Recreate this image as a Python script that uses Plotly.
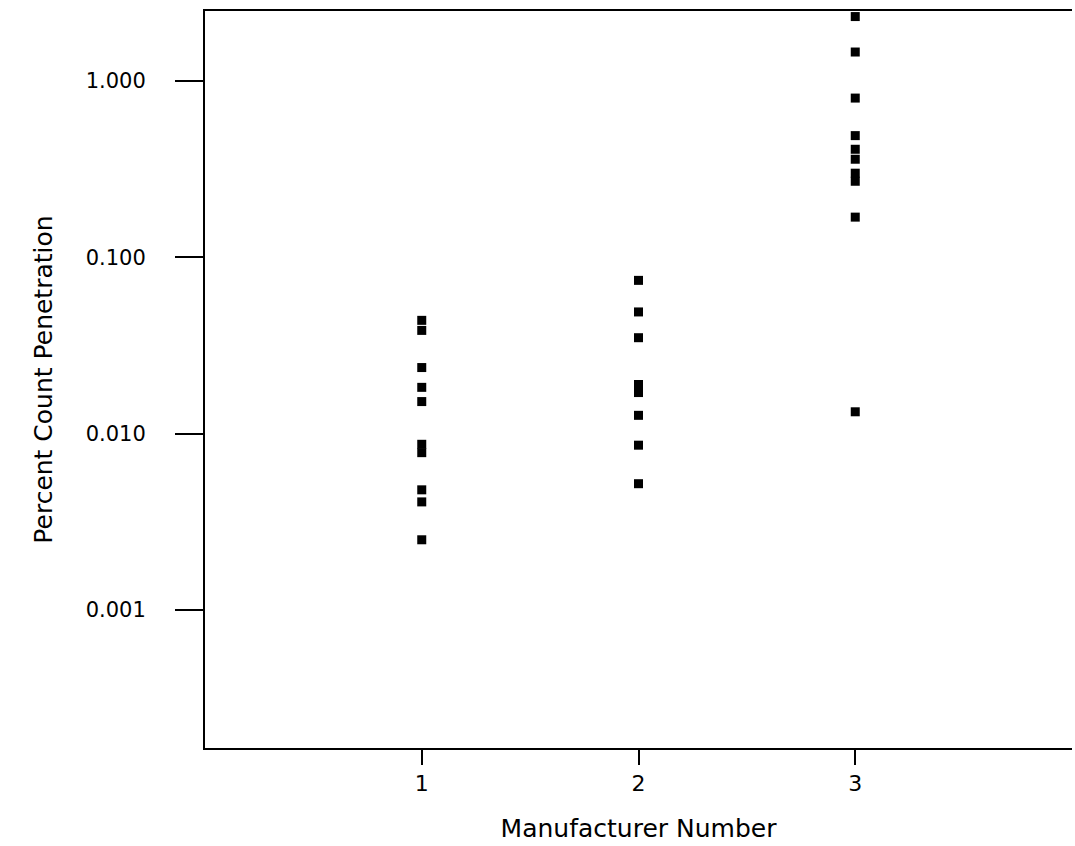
import plotly.graph_objects as go

# Manufacturer numbers and percent count penetration values
mfr1_x = [1] * 10
mfr1_y = [0.0439, 0.0385, 0.0237, 0.0183, 0.0152, 0.0087, 0.0078, 0.0048, 0.0041, 0.0025]

mfr2_x = [2] * 8
mfr2_y = [0.074, 0.049, 0.035, 0.019, 0.0171, 0.0127, 0.0086, 0.0052]

mfr3_x = [3] * 10
mfr3_y = [2.32, 1.46, 0.80, 0.49, 0.41, 0.36, 0.30, 0.27, 0.169, 0.0133]

x_ticks = [1, 2, 3]
x_ticklabels = ["1", "2", "3"]
y_ticks = [0.001, 0.01, 0.1, 1.0]
y_ticklabels = ["0.001", "0.010", "0.100", "1.000"]

font_family = "DejaVu Sans"
marker = dict(symbol="square", size=9, color="black")

fig = go.Figure()
for xs, ys in [(mfr1_x, mfr1_y), (mfr2_x, mfr2_y), (mfr3_x, mfr3_y)]:
    fig.add_trace(go.Scatter(x=xs, y=ys, mode="markers", marker=marker,
                             showlegend=False, cliponaxis=False, hoverinfo="skip"))

fig.update_layout(
    width=1075, height=846,
    paper_bgcolor="white", plot_bgcolor="white",
    margin=dict(l=205, r=3, t=11, b=98),
    font=dict(family=font_family, color="black", size=21),
)
fig.update_xaxes(
    range=[0, 4], tickvals=x_ticks, ticktext=x_ticklabels,
    showgrid=False, zeroline=False,
    showline=True, linecolor="black", linewidth=2, mirror=True,
    ticks="outside", ticklen=15, tickwidth=2, tickcolor="black",
    tickfont=dict(size=22),
    title=dict(text="Manufacturer Number", font=dict(size=25), standoff=24),
)
fig.update_yaxes(
    type="log", range=[-3.783, 0.397],
    tickvals=y_ticks, ticktext=y_ticklabels,
    showgrid=False, zeroline=False,
    showline=True, linecolor="black", linewidth=2, mirror=False,
    ticks="outside", ticklen=28, tickwidth=2, tickcolor="black",
    ticklabelstandoff=25,
    tickfont=dict(size=21),
    title=dict(text="Percent Count Penetration", font=dict(size=25), standoff=26),
)

fig.write_html("out.html",
               config={"displayModeBar": False},
               post_script="document.body.style.margin='0px';document.body.style.overflow='hidden';")
